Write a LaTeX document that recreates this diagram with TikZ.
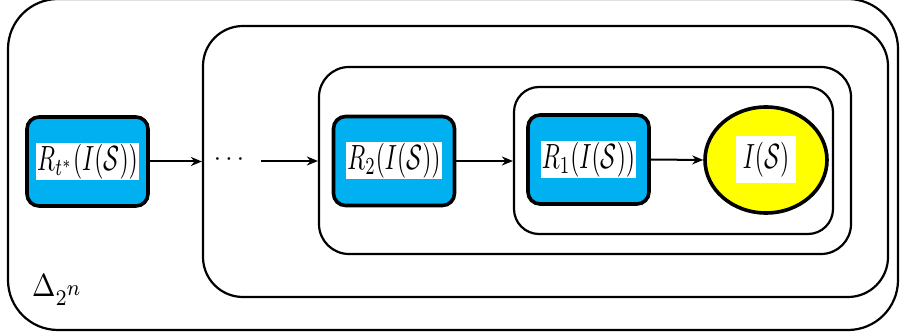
\documentclass[tikz,border=0pt]{standalone}
\usepackage{graphicx}
\usetikzlibrary{shapes.geometric,arrows.meta}
\definecolor{pblue}{HTML}{00B0F0}
\definecolor{pyellow}{HTML}{FFFF00}
\newcommand{\tallmath}[1]{\scalebox{2.35}[3.5]{$#1$}}
\begin{document}
\begin{tikzpicture}[x=1pt,y=-1pt,
  container/.style={draw, line width=2.2pt, rounded corners=#1, inner sep=0pt},
  bluebox/.style={draw, line width=3.6pt, fill=pblue, rounded corners=12pt, minimum width=121pt, minimum height=89pt, inner sep=0pt},
  lbl/.style={fill=white, inner sep=1pt},
  conn/.style={line width=2pt, -{Stealth[length=11pt,width=9pt]}}]
\useasboundingbox (0,0) rectangle (901,336);
\node[container=50pt, minimum width=890pt, minimum height=331pt] (b1) at (453,164.5) {};
\node[container=40pt, minimum width=685pt, minimum height=271pt] (b2) at (545.5,161.5) {};
\node[container=30pt, minimum width=532pt, minimum height=187pt] (b3) at (585,160.5) {};
\node[container=25pt, minimum width=319pt, minimum height=147pt] (b4) at (673.5,160.5) {};
\node[bluebox] (rt) at (87.5,161.5) {};
\node[lbl] (lrt) at (rt.center) {\tallmath{R_{t^*}(I(\mathcal{S}))}};
\node[bluebox] (r2) at (394,161) {};
\node[lbl] (lr2) at (r2.center) {\tallmath{R_2(I(\mathcal{S}))}};
\node[bluebox] (r1) at (588.5,159.5) {};
\node[lbl] (lr1) at (r1.center) {\tallmath{R_1(I(\mathcal{S}))}};
\node[ellipse, draw, line width=3.6pt, fill=pyellow, minimum width=122pt, minimum height=106pt, inner sep=0pt] (is) at (766,160) {};
\node[lbl, inner xsep=6.5pt, inner ysep=6pt] (lis) at (is.center) {\tallmath{I(\mathcal{S})}};
\node[inner sep=0pt] (dots) at (229,160) {\scalebox{2.6}{$\cdots$}};
\coordinate (dstart) at (261,161);
\node[anchor=base west, inner sep=0pt] (delta) at (32,297) {\scalebox{2.8}[3.2]{$\Delta_{\scriptstyle 2^{\scriptstyle n}}$}};
\draw[conn] (rt.east) -- (rt.east -| b2.west);
\draw[conn] (dstart) -- (dstart -| b3.west);
\draw[conn] (r2.east) -- (r2.east -| b4.west);
\draw[conn] (r1.east) -- (is.west);
\end{tikzpicture}
\end{document}
